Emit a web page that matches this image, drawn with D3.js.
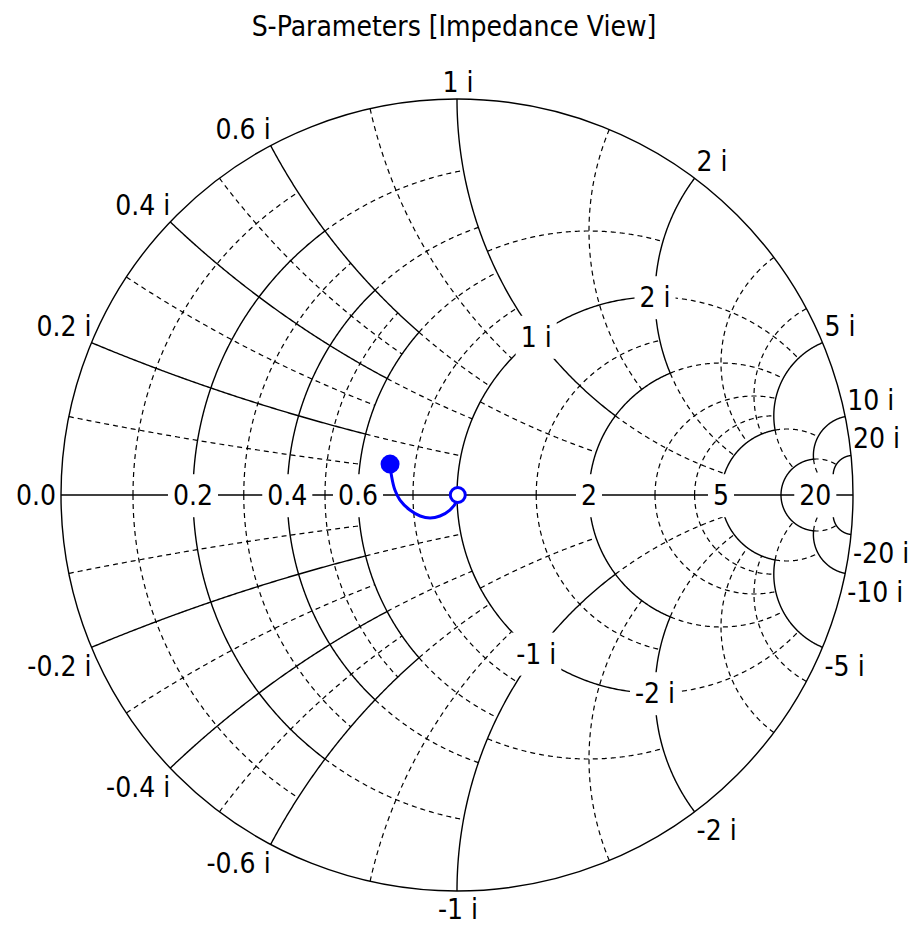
<!DOCTYPE html>
<html><head><meta charset="utf-8">
<script src="https://cdn.jsdelivr.net/npm/d3@7"></script>
<style>
html,body{margin:0;padding:0;background:#fff;}
svg{display:block;}
text{font-family:"DejaVu Sans Condensed","DejaVu Sans",sans-serif;font-stretch:condensed;fill:#000;}
</style></head><body>
<svg id="chart" width="919" height="927"></svg>
<script>
// ---------- data ----------
const chartTitle = "S-Parameters [Impedance View]";
// grid segments in chart units: [value, from, to]
// resistance circles: value r drawn for reactance |x| in [from, to]
const majorResistance = [[0.2,0,0.6],[0.4,0,0.6],[0.6,0,0.6],[1,0,2],[2,0,2],[5,0,5],[10,0,10],[20,0,20]];
const minorResistance = [[0.1,0,0.6],[0.3,0,0.6],[0.5,0,0.6],
  [0.2,0.6,1],[0.4,0.6,1],[0.6,0.6,1],[0.8,0,1],
  [0.5,1,2],[1.5,0,2],
  [1,2,5],[2,2,5],[3,0,5],[4,0,5],
  [5,5,10],[10,10,20]];
// reactance arcs: value x drawn for resistance r in [from, to]
const majorReactance = [[0.2,0,0.6],[0.4,0,0.6],[0.6,0,0.6],[1,0,2],[2,0,2],[5,0,5],[10,0,10],[20,0,20]];
const minorReactance = [[0.1,0,0.6],[0.3,0,0.6],[0.5,0,0.6],
  [0.2,0.6,1],[0.4,0.6,1],[0.6,0.6,1],[0.8,0,1],
  [0.5,1,2],[1.5,0,2],
  [1,2,5],[2,2,5],[3,0,5],[4,0,5],
  [5,5,10],[10,10,20]];
// tick labels
const resistanceTicks = [0, 0.2, 0.4, 0.6, 2, 5, 20];
const reactanceTicks = [0.2, 0.4, 0.6, 1, 2, 5, 10, 20];
const innerReactanceTicks = [1, 2];   // labelled on the r = 1 circle
// S11 trace (reflection coefficient), start -> end
const s11Re = [-0.169,-0.165,-0.157,-0.144,-0.119,-0.093,-0.068,-0.043,-0.018,-0.002,0.002];
const s11Im = [ 0.078, 0.046, 0.013,-0.013,-0.038,-0.053,-0.058,-0.053,-0.038,-0.018,0.000];

// ---------- layout ----------
const W = 919, H = 927;
const cx = 457, cy = 495, R = 396;
const fs = 28, capH = 0.73 * fs;
const svg = d3.select("#chart");
const sx = d3.scaleLinear().domain([-1, 1]).range([cx - R, cx + R]);
const sy = d3.scaleLinear().domain([-1, 1]).range([cy + R, cy - R]);
const line = d3.line().x(d => sx(d[0])).y(d => sy(d[1]));

function gamma(r, x) { const d = (r + 1) * (r + 1) + x * x; return [(r * r + x * x - 1) / d, 2 * x / d]; }
const N = 160;
function rArcPts(r, a, b) {
  const c = r / (1 + r), rho = 1 / (1 + r);
  const ang = g => Math.atan2(g[1], g[0] - c);
  const t0 = ang(gamma(r, a)), t1 = ang(gamma(r, b));
  return d3.range(N + 1).map(i => { const t = t0 + (t1 - t0) * i / N; return [c + rho * Math.cos(t), rho * Math.sin(t)]; });
}
function xArcPts(x, a, b) {
  const k = 1 / x;
  const ang = g => { let t = Math.atan2(g[1] - k, g[0] - 1); if (t < 0) t += 2 * Math.PI; return t; };
  const t0 = ang(gamma(a, x)), t1 = ang(gamma(b, x));
  return d3.range(N + 1).map(i => { const t = t0 + (t1 - t0) * i / N; return [1 + k * Math.cos(t), k + k * Math.sin(t)]; });
}
const mirror = pts => pts.map(p => [p[0], -p[1]]);

const grid = svg.append("g").attr("fill", "none").attr("stroke", "#000");
function drawSet(list, fn, dashed) {
  list.forEach(([v, a, b]) => {
    const up = fn(v, a, b);
    [up, mirror(up)].forEach(pts => {
      grid.append("path").attr("d", line(pts))
        .attr("stroke-width", dashed ? 1.2 : 1.4)
        .attr("stroke-dasharray", dashed ? "5,4" : null);
    });
  });
}
drawSet(minorResistance, rArcPts, true);
drawSet(minorReactance, xArcPts, true);
drawSet(majorResistance, rArcPts, false);
drawSet(majorReactance, xArcPts, false);

// outer circle (r = 0) and real axis (x = 0)
grid.append("circle").attr("cx", sx(0)).attr("cy", sy(0)).attr("r", sx(1) - sx(0)).attr("stroke-width", 1.4);
grid.append("line").attr("x1", sx(-1)).attr("x2", sx(1)).attr("y1", sy(0)).attr("y2", sy(0)).attr("stroke-width", 1.4);

// ---------- labels ----------
const lab = svg.append("g").attr("font-size", fs);
function boxedLabel(txt, x, y) {
  const g = lab.append("g");
  const t = g.append("text").attr("x", x).attr("y", y + capH / 2).attr("text-anchor", "middle").text(txt);
  const bb = t.node().getBBox();
  g.insert("rect", "text").attr("x", bb.x - 5).attr("y", bb.y - 5).attr("width", bb.width + 10).attr("height", bb.height + 10).attr("fill", "#fff");
}
resistanceTicks.forEach(r => {
  const g = gamma(r, 0);
  if (r === 0) {
    lab.append("text").attr("x", sx(g[0]) - 5).attr("y", sy(0) + capH / 2).attr("text-anchor", "end").text("0.0");
  } else {
    boxedLabel(String(r), sx(g[0]), sy(0));
  }
});
reactanceTicks.forEach(v => {
  [1, -1].forEach(s => {
    const g = gamma(0, s * v);
    const px = sx(g[0]), py = sy(g[1]);
    const anchor = Math.abs(g[0]) < 0.05 ? "middle" : (g[0] < 0 ? "end" : "start");
    const tx = anchor === "start" ? px + 2 : (anchor === "middle" ? px + 1 : px);
    const ty = s > 0 ? py - 7 : py + 8 + capH;
    lab.append("text").attr("x", tx).attr("y", ty).attr("text-anchor", anchor)
      .text((s < 0 ? "-" : "") + v + " i");
  });
});
innerReactanceTicks.forEach(v => {
  [1, -1].forEach(s => {
    const g = gamma(1, s * v);
    boxedLabel((s < 0 ? "-" : "") + v + " i", sx(g[0]), sy(g[1]));
  });
});

svg.append("text").attr("x", 454).attr("y", 36).attr("text-anchor", "middle").attr("font-size", fs).text(chartTitle);

// ---------- data trace ----------
const trace = s11Re.map((re, i) => [re, s11Im[i]]);
svg.append("path").attr("d", line.curve(d3.curveCatmullRom)(trace))
  .attr("fill", "none").attr("stroke", "#0000ff").attr("stroke-width", 3);
const first = trace[0], last = trace[trace.length - 1];
svg.append("circle").attr("cx", sx(first[0])).attr("cy", sy(first[1])).attr("r", 9.5).attr("fill", "#0000ff");
svg.append("circle").attr("cx", sx(last[0])).attr("cy", sy(last[1])).attr("r", 7.5)
  .attr("fill", "#fff").attr("stroke", "#0000ff").attr("stroke-width", 3);
</script>
</body></html>
